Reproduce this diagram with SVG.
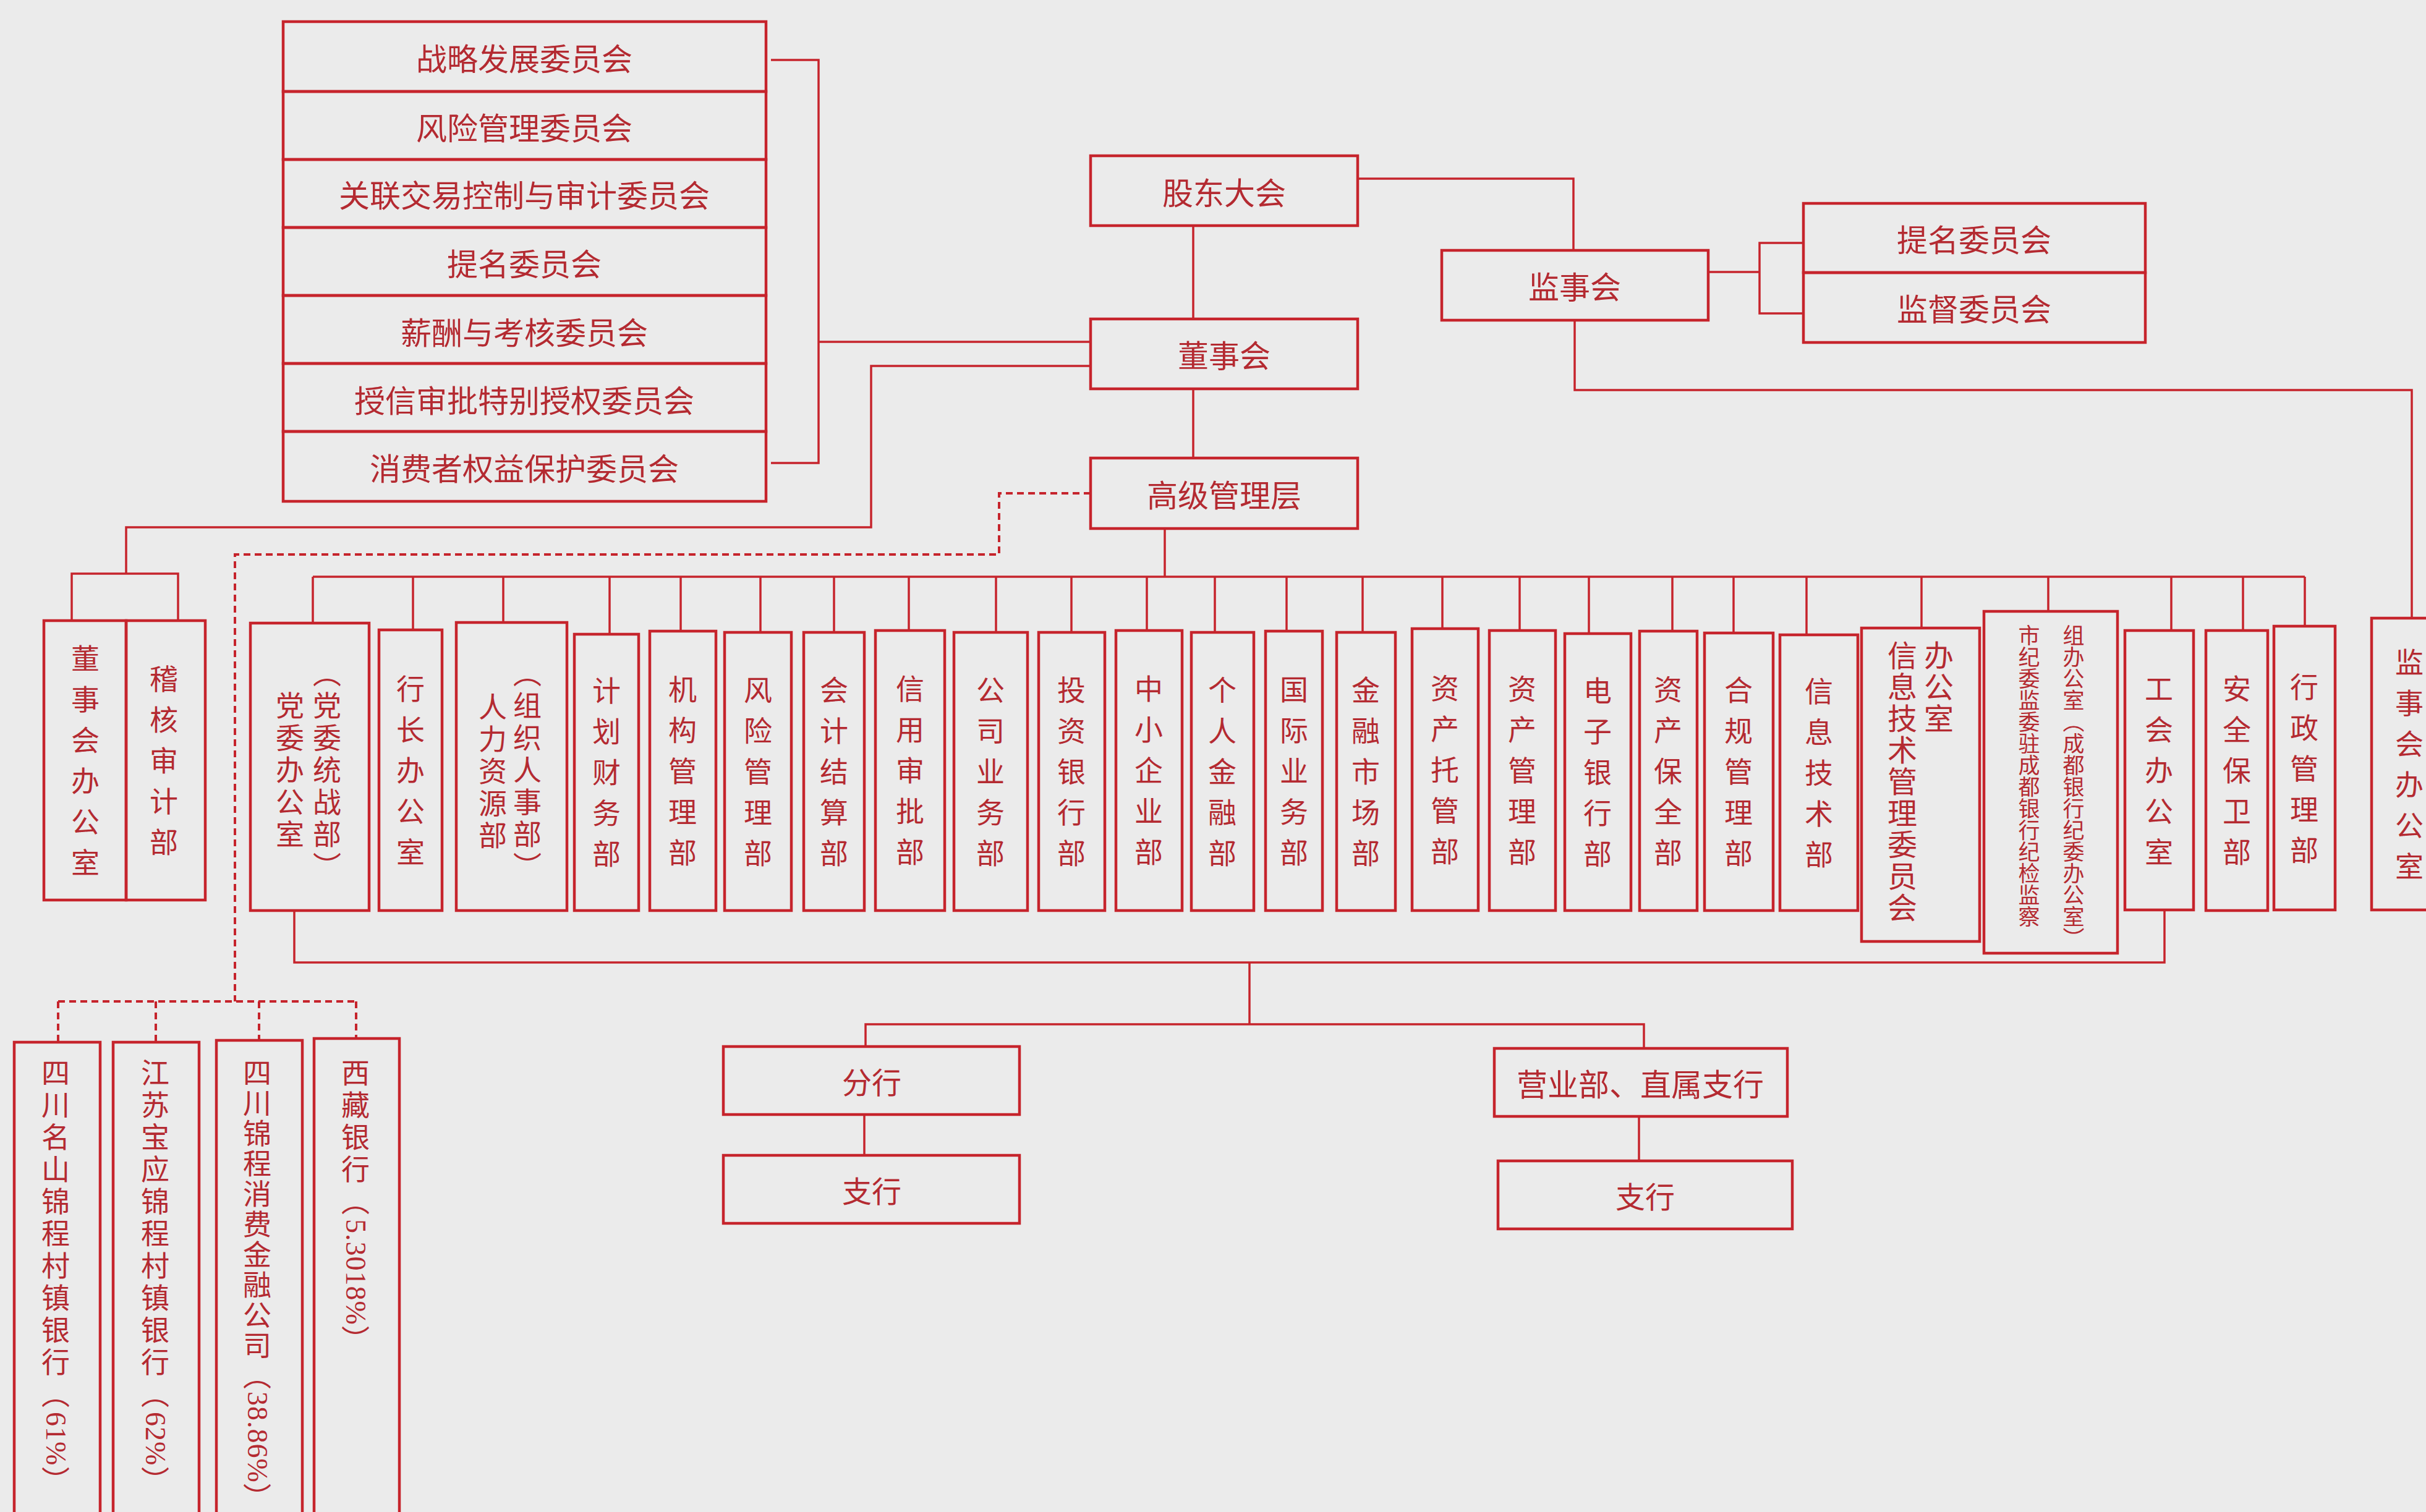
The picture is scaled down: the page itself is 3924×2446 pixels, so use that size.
<svg xmlns="http://www.w3.org/2000/svg" width="3924" height="2446" viewBox="0 0 3924 2446">
<defs>
<style>
.bg{fill:#ebebeb}
.box{fill:none;stroke:#c6242c;stroke-width:4.5}
.ln{fill:none;stroke:#c6242c;stroke-width:3.5}
.dash{fill:none;stroke:#c6242c;stroke-width:4;stroke-dasharray:11 7}
text{font-family:"Noto Sans CJK SC","Noto Sans",sans-serif;fill:#b42a31}
.h{font-size:50px;text-anchor:middle;dominant-baseline:central}
.v{writing-mode:vertical-rl;text-orientation:mixed}
.d{font-size:46px;letter-spacing:20px;text-anchor:middle}
.d2{font-size:46px;letter-spacing:6px;text-anchor:middle}
.it{font-size:48px;letter-spacing:3px;text-anchor:start}
.jj{font-size:35px;text-anchor:start}
.sb{font-size:46px;letter-spacing:6px;text-anchor:start}
.num{font-family:"Liberation Serif",serif;letter-spacing:1px}
</style>
</defs>
<rect class="bg" x="0" y="0" width="3924" height="2446"/>

<g id="connectors">
<path class="ln" d="M1247,97 H1324 V749 H1247"/>
<path class="ln" d="M1324,553 H1764"/>
<path class="ln" d="M1764,592 H1409 V853 H204 V928"/>
<path class="ln" d="M116,1004 V928 H288 V1004"/>
<path class="ln" d="M2196,289 H2545 V405"/>
<path class="ln" d="M1930,365 V516"/>
<path class="ln" d="M1930,629 V741"/>
<path class="ln" d="M2763,440 H2846"/>
<path class="ln" d="M2917,393 H2846 V507 H2917"/>
<path class="ln" d="M2547,518 V631 H3901 V1000"/>
<path class="ln" d="M1884,855 V933"/>
<path class="ln" d="M506,933 H3728"/>
<path class="ln" d="M506,933V1008 M668,933V1019 M814,933V1007 M986,933V1026 M1101,933V1021 M1230,933V1023 M1349,933V1023 M1470,933V1020 M1611,933V1023 M1733,933V1023 M1855,933V1020 M1965,933V1023 M2081,933V1021 M2204,933V1023 M2333,933V1017 M2458,933V1020 M2570,933V1025 M2705,933V1021 M2804,933V1024 M2922,933V1027 M3108,933V1016 M3313,933V989 M3512,933V1020 M3628,933V1020 M3728,933V1013"/>
<path class="dash" d="M1764,798 H1616 V897 H380 V1620"/>
<path class="dash" d="M94,1620 H578"/>
<path class="dash" d="M94,1620 V1686 M252,1620 V1686 M419,1620 V1683 M576,1620 V1680"/>
<path class="ln" d="M476,1473 V1557 H3501 V1472"/>
<path class="ln" d="M2021,1557 V1657"/>
<path class="ln" d="M1400,1693 V1657 H2659 V1696"/>
<path class="ln" d="M1398,1803 V1869"/>
<path class="ln" d="M2651,1806 V1878"/>
</g>

<g id="c1"><rect class="box" x="458" y="35" width="781" height="113"/><text class="h" x="848" y="92">战略发展委员会</text></g>
<g id="c2"><rect class="box" x="458" y="148" width="781" height="110"/><text class="h" x="848" y="204">风险管理委员会</text></g>
<g id="c3"><rect class="box" x="458" y="258" width="781" height="110"/><text class="h" x="848" y="313">关联交易控制与审计委员会</text></g>
<g id="c4"><rect class="box" x="458" y="368" width="781" height="110"/><text class="h" x="848" y="424">提名委员会</text></g>
<g id="c5"><rect class="box" x="458" y="478" width="781" height="110"/><text class="h" x="848" y="535">薪酬与考核委员会</text></g>
<g id="c6"><rect class="box" x="458" y="588" width="781" height="110"/><text class="h" x="848" y="645">授信审批特别授权委员会</text></g>
<g id="c7"><rect class="box" x="458" y="698" width="781" height="113"/><text class="h" x="848" y="755">消费者权益保护委员会</text></g>

<g id="gudong"><rect class="box" x="1764" y="252" width="432" height="113"/><text class="h" x="1980" y="309">股东大会</text></g>
<g id="dongshihui"><rect class="box" x="1764" y="516" width="432" height="113"/><text class="h" x="1980" y="572">董事会</text></g>
<g id="gaoguan"><rect class="box" x="1764" y="741" width="432" height="114"/><text class="h" x="1980" y="798">高级管理层</text></g>
<g id="jianshihui"><rect class="box" x="2332" y="405" width="431" height="113"/><text class="h" x="2547" y="461">监事会</text></g>
<g id="timing2"><rect class="box" x="2917" y="329" width="553" height="112"/><text class="h" x="3193" y="385">提名委员会</text></g>
<g id="jiandu"><rect class="box" x="2917" y="441" width="553" height="113"/><text class="h" x="3193" y="497">监督委员会</text></g>

<g id="dsb"><rect class="box" x="71" y="1004" width="133" height="452"/><text class="v d" x="138" y="1240">董事会办公室</text></g>
<g id="jhsj"><rect class="box" x="204" y="1004" width="128" height="452"/><text class="v d" x="265" y="1240">稽核审计部</text></g>

<g id="dept1"><rect class="box" x="405" y="1008" width="192" height="465"/><text class="v d2" x="469" y="1248">党委办公室</text><text class="v d2" x="529" y="1248">（党委统战部）</text></g>
<g id="dept2"><rect class="box" x="613" y="1019" width="102" height="454"/><text class="v d" x="664" y="1256">行长办公室</text></g>
<g id="dept3"><rect class="box" x="738" y="1007" width="179" height="466"/><text class="v d2" x="797" y="1250">人力资源部</text><text class="v d2" x="853" y="1248">（组织人事部）</text></g>
<g id="dept4"><rect class="box" x="929" y="1026" width="104" height="447"/><text class="v d" x="981" y="1259">计划财务部</text></g>
<g id="dept5"><rect class="box" x="1051" y="1021" width="107" height="452"/><text class="v d" x="1104" y="1257">机构管理部</text></g>
<g id="dept6"><rect class="box" x="1172" y="1023" width="108" height="450"/><text class="v d" x="1226" y="1258">风险管理部</text></g>
<g id="dept7"><rect class="box" x="1300" y="1023" width="98" height="450"/><text class="v d" x="1349" y="1258">会计结算部</text></g>
<g id="dept8"><rect class="box" x="1416" y="1020" width="112" height="453"/><text class="v d" x="1472" y="1256">信用审批部</text></g>
<g id="dept9"><rect class="box" x="1543" y="1023" width="119" height="450"/><text class="v d" x="1602" y="1258">公司业务部</text></g>
<g id="dept10"><rect class="box" x="1680" y="1023" width="107" height="450"/><text class="v d" x="1733" y="1258">投资银行部</text></g>
<g id="dept11"><rect class="box" x="1805" y="1020" width="107" height="453"/><text class="v d" x="1858" y="1256">中小企业部</text></g>
<g id="dept12"><rect class="box" x="1927" y="1023" width="101" height="450"/><text class="v d" x="1977" y="1258">个人金融部</text></g>
<g id="dept13"><rect class="box" x="2047" y="1021" width="92" height="452"/><text class="v d" x="2093" y="1257">国际业务部</text></g>
<g id="dept14"><rect class="box" x="2162" y="1023" width="95" height="450"/><text class="v d" x="2209" y="1258">金融市场部</text></g>
<g id="dept15"><rect class="box" x="2284" y="1017" width="107" height="456"/><text class="v d" x="2337" y="1255">资产托管部</text></g>
<g id="dept16"><rect class="box" x="2409" y="1020" width="107" height="453"/><text class="v d" x="2462" y="1256">资产管理部</text></g>
<g id="dept17"><rect class="box" x="2531" y="1025" width="107" height="448"/><text class="v d" x="2584" y="1259">电子银行部</text></g>
<g id="dept18"><rect class="box" x="2652" y="1021" width="93" height="452"/><text class="v d" x="2698" y="1257">资产保全部</text></g>
<g id="dept19"><rect class="box" x="2757" y="1024" width="111" height="449"/><text class="v d" x="2812" y="1258">合规管理部</text></g>
<g id="dept20"><rect class="box" x="2879" y="1027" width="126" height="446"/><text class="v d" x="2942" y="1260">信息技术部</text></g>
<g id="dept21"><rect class="box" x="3011" y="1016" width="191" height="507"/><text class="v it" x="3077" y="1036">信息技术管理委员会</text><text class="v it" x="3136" y="1036">办公室</text></g>
<g id="dept22"><rect class="box" x="3209" y="989" width="216" height="553"/><text class="v jj" x="3282" y="1010">市纪委监委驻成都银行纪检监察</text><text class="v jj" x="3354" y="1010">组办公室（成都银行纪委办公室）</text></g>
<g id="dept23"><rect class="box" x="3437" y="1020" width="111" height="452"/><text class="v d" x="3492" y="1256">工会办公室</text></g>
<g id="dept24"><rect class="box" x="3568" y="1020" width="100" height="453"/><text class="v d" x="3618" y="1256">安全保卫部</text></g>
<g id="dept25"><rect class="box" x="3678" y="1013" width="99" height="459"/><text class="v d" x="3727" y="1253">行政管理部</text></g>
<g id="jsb"><rect class="box" x="3836" y="1000" width="110" height="472"/><text class="v d" x="3897" y="1246">监事会办公室</text></g>

<g id="fenhang"><rect class="box" x="1170" y="1693" width="479" height="110"/><text class="h" x="1410" y="1748" style="font-size:48px">分行</text></g>
<g id="zhihang1"><rect class="box" x="1170" y="1869" width="479" height="110"/><text class="h" x="1410" y="1924" style="font-size:48px">支行</text></g>
<g id="yingye"><rect class="box" x="2417" y="1696" width="474" height="110"/><text class="h" x="2653" y="1751">营业部、直属支行</text></g>
<g id="zhihang2"><rect class="box" x="2423" y="1878" width="476" height="110"/><text class="h" x="2661" y="1933" style="font-size:48px">支行</text></g>

<g id="sub1"><rect class="box" x="23" y="1686" width="139" height="800"/><text class="v sb" x="90" y="1712">四川名山锦程村镇银行（<tspan class="num">61%</tspan>）</text></g>
<g id="sub2"><rect class="box" x="183" y="1686" width="139" height="800"/><text class="v sb" x="251" y="1712">江苏宝应锦程村镇银行（<tspan class="num">62%</tspan>）</text></g>
<g id="sub3"><rect class="box" x="350" y="1683" width="139" height="800"/><text class="v sb" x="416" y="1712" style="letter-spacing:3px">四川锦程消费金融公司（<tspan class="num">38.86%</tspan>）</text></g>
<g id="sub4"><rect class="box" x="508" y="1680" width="138" height="800"/><text class="v sb" x="575" y="1712">西藏银行（<tspan class="num">5.3018%</tspan>）</text></g>
</svg>
